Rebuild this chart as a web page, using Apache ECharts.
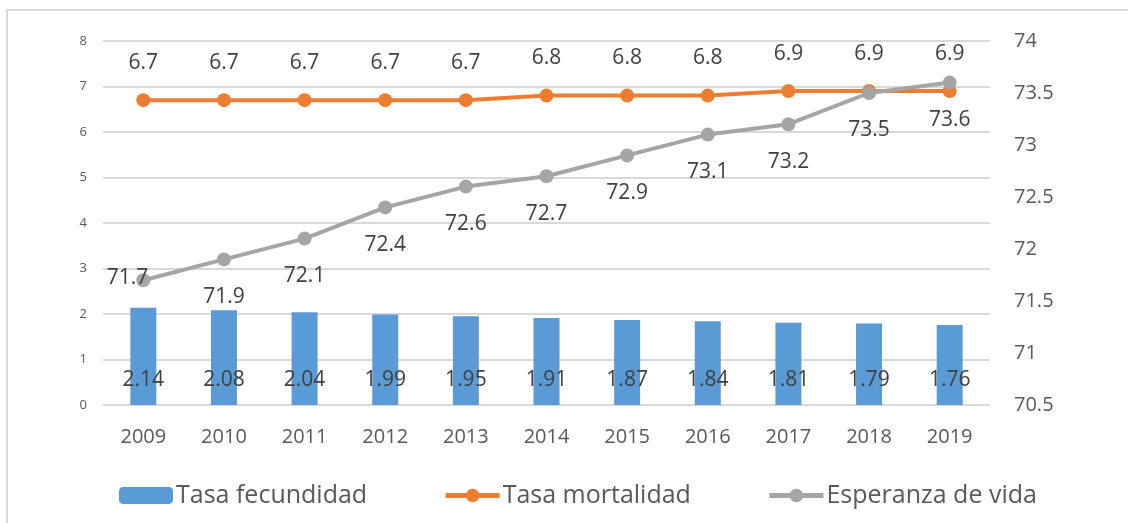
<!DOCTYPE html>
<html>
<head>
<meta charset="utf-8">
<script src="https://cdn.jsdelivr.net/npm/echarts@6/dist/echarts.min.js"></script>
<style>
  html, body { margin: 0; padding: 0; background: #fff; }
  #chart { width: 1128px; height: 523px; }
</style>
</head>
<body>
<div id="chart"></div>
<script>
const years = ['2009', '2010', '2011', '2012', '2013', '2014', '2015', '2016', '2017', '2018', '2019'];
const fecundidad = [2.14, 2.08, 2.04, 1.99, 1.95, 1.91, 1.87, 1.84, 1.81, 1.79, 1.76];
const mortalidad = [6.7, 6.7, 6.7, 6.7, 6.7, 6.8, 6.8, 6.8, 6.9, 6.9, 6.9];
const esperanza = [71.7, 71.9, 72.1, 72.4, 72.6, 72.7, 72.9, 73.1, 73.2, 73.5, 73.6];

const FONT = 'Open Sans';
const TEXT = '#404040';

const chart = echarts.init(document.getElementById('chart'));

// first gray label sits to the left of its point (like Excel moved it)
const esperanzaData = esperanza.map((v, i) => i === 0
  ? { value: v, label: { position: 'left', distance: 2, offset: [14, -2] } }
  : v);

chart.setOption({
  animation: false,
  textStyle: { fontFamily: FONT },
  graphic: [{
    type: 'rect',
    shape: { x: 7, y: 10, width: 1140, height: 530 },
    style: { fill: 'none', stroke: '#D9D9D9', lineWidth: 2 },
    silent: true
  }],
  grid: { left: 103, right: 138, top: 41, bottom: 118 },
  legend: {
    bottom: 10,
    left: 114,
    itemGap: 76,
    itemWidth: 54,
    itemHeight: 17,
    textStyle: { fontSize: 25, color: '#595959', fontFamily: FONT, padding: [0, 0, 0, -2] },
    data: [
      { name: 'Tasa fecundidad' },
      { name: 'Tasa mortalidad', lineStyle: { width: 5 } },
      { name: 'Esperanza de vida', lineStyle: { width: 5 } }
    ]
  },
  xAxis: {
    type: 'category',
    data: years,
    axisLine: { show: false },
    axisTick: { show: false },
    axisLabel: { fontSize: 20, color: '#595959', margin: 22 }
  },
  yAxis: [{
    type: 'value',
    min: 0, max: 8, interval: 1,
    axisLine: { show: false },
    axisTick: { show: false },
    axisLabel: { fontSize: 13, color: '#595959', margin: 16 },
    splitLine: { lineStyle: { color: '#D9D9D9', width: 2 } }
  }, {
    type: 'value',
    min: 70.5, max: 74, interval: 0.5,
    axisLine: { show: false },
    axisTick: { show: false },
    axisLabel: { fontSize: 20, color: '#595959', margin: 24 },
    splitLine: { show: false }
  }],
  series: [{
    name: 'Tasa fecundidad',
    type: 'bar',
    data: fecundidad,
    barWidth: 26,
    itemStyle: { color: '#5B9BD5' },
    label: {
      show: true, position: 'insideBottom', distance: 14,
      fontSize: 21, color: TEXT
    }
  }, {
    name: 'Tasa mortalidad',
    type: 'line',
    data: mortalidad,
    symbol: 'circle',
    symbolSize: 14,
    lineStyle: { color: '#ED7D31', width: 4 },
    itemStyle: { color: '#ED7D31' },
    label: {
      show: true, position: 'top', distance: 20,
      fontSize: 21, color: TEXT
    }
  }, {
    name: 'Esperanza de vida',
    type: 'line',
    yAxisIndex: 1,
    data: esperanzaData,
    symbol: 'circle',
    symbolSize: 14,
    lineStyle: { color: '#A5A5A5', width: 4 },
    itemStyle: { color: '#A5A5A5' },
    label: {
      show: true, position: 'bottom', distance: 20,
      fontSize: 21, color: TEXT
    }
  }]
});
</script>
</body>
</html>
